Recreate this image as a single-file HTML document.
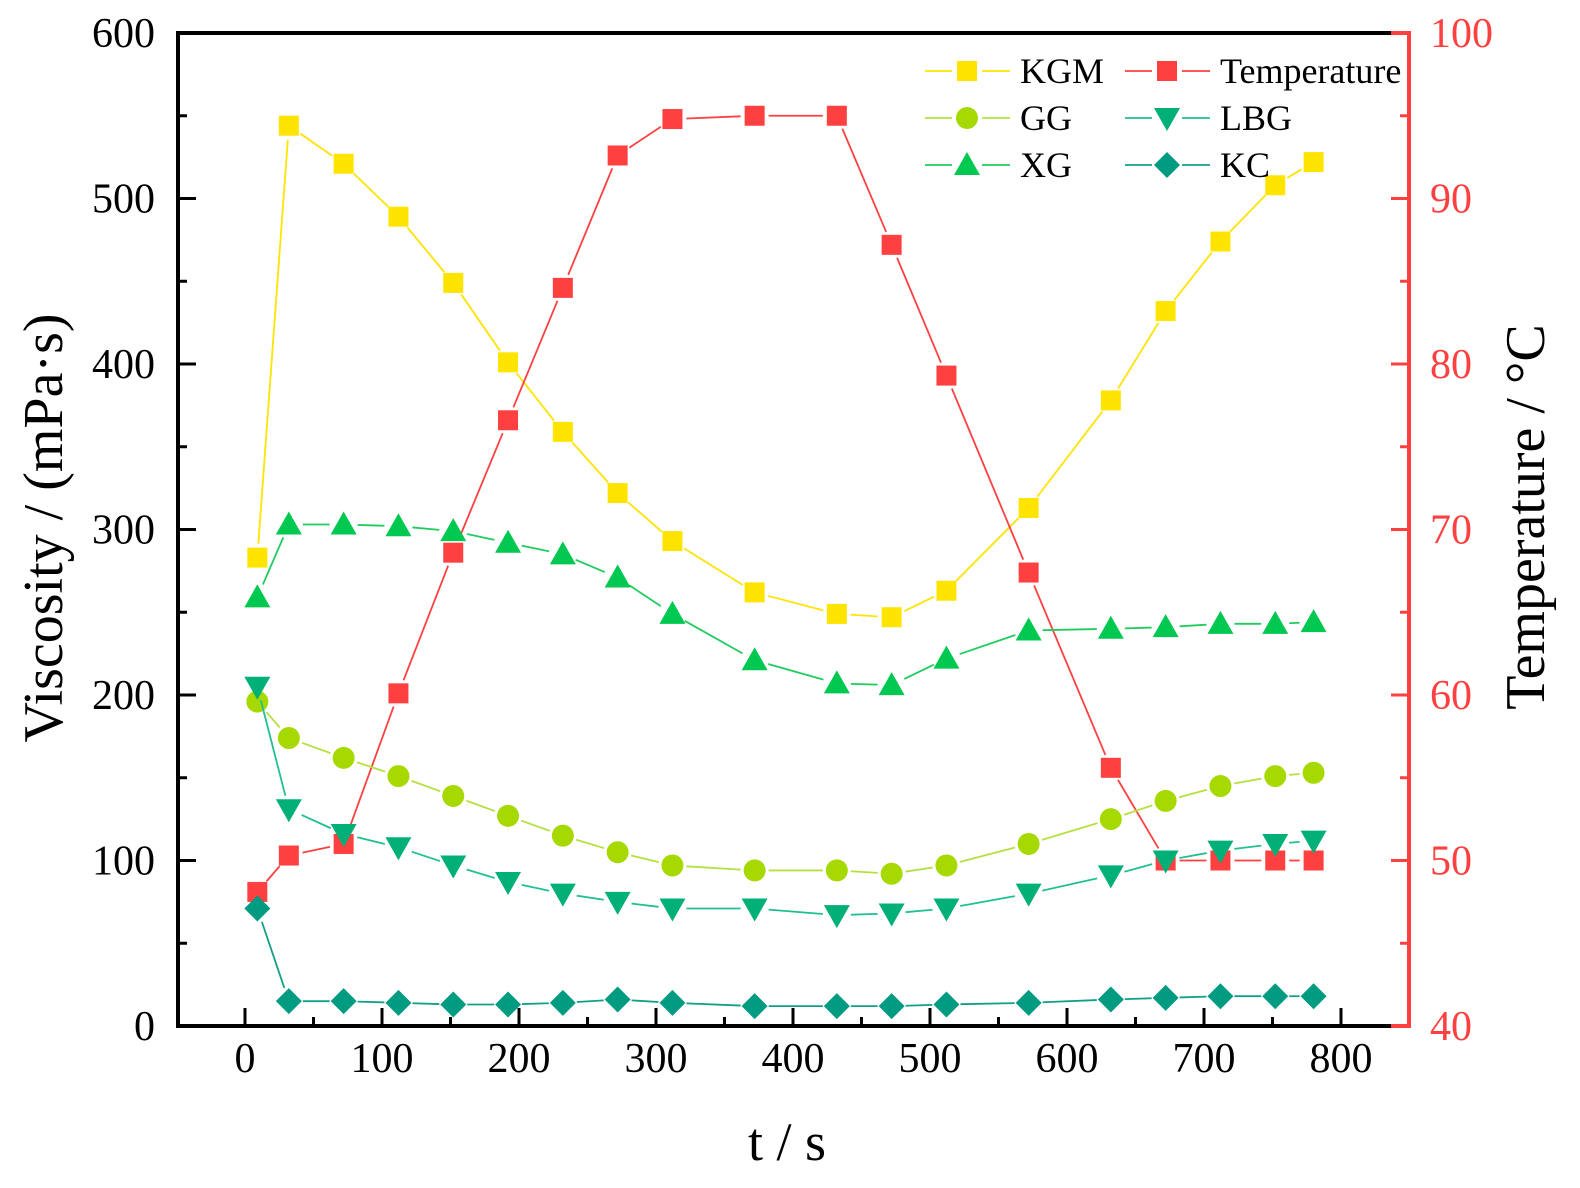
<!DOCTYPE html>
<html><head><meta charset="utf-8"><style>
html,body{margin:0;padding:0;background:#fff}
svg{display:block;font-family:"Liberation Serif",serif}
</style></head><body>
<svg id="chart" width="1580" height="1188" viewBox="0 0 1580 1188">
<g id="grid"></g>
<g id="series"></g>
<g id="axes"></g>
<g id="legend"></g>
</svg>
<script>
const times = [9,32,72,112,152,192,232,272,312,372,432,472,512,572,632,672,712,752,780];
const kgm = [283,544,521,489,449,401,359,322,293,262,249,247,263,313,378,432,474,508,522];
const temperature = [48.1,50.3,51.0,60.1,68.6,76.6,84.6,92.6,94.8,95.0,95.0,87.2,79.3,67.4,55.6,50,50,50,50];
const gg = [196,174,162,151,139,127,115,105,97,94,94,92,97,110,125,136,145,151,153];
const lbg = [205,131,116,108,97,87,80,75,71,71,67,68,71,80,91,100,106,110,112];
const xg = [259,303,303,302,299,292,285,271,249,221,207,206,222,239,240,241,243,243,244];
const kc = [71,15,15,14,13,13,14,16,14,12,12,12,13,14,16,17,18,18,18];
const xTicks = [0,100,200,300,400,500,600,700,800];
const yTicks = [0,100,200,300,400,500,600];
const y2Ticks = [40,50,60,70,80,90,100];

const NS='http://www.w3.org/2000/svg';
const L=178,R=1409,T=33,B=1026;
const sx=t=>245+t*1.37;
const sy=v=>B-(v/600)*(B-T);
const sy2=v=>B-((v-40)/60)*(B-T);
function mk(tag,attrs,parent,text){const e=document.createElementNS(NS,tag);for(const k in attrs)e.setAttribute(k,attrs[k]);if(text!==undefined)e.textContent=text;parent.appendChild(e);return e;}
const gS=document.getElementById('series'),gA=document.getElementById('axes'),gL=document.getElementById('legend');

function marker(shape,x,y,fill,parent){
  let e;
  if(shape==='square') e=mk('rect',{x:x-10,y:y-10,width:20,height:20,fill:fill},parent);
  else if(shape==='circle') e=mk('circle',{cx:x,cy:y,r:11,fill:fill},parent);
  else if(shape==='up') e=mk('polygon',{points:`${x-13},${y+10} ${x+13},${y+10} ${x},${y-13}`,fill:fill},parent);
  else if(shape==='down') e=mk('polygon',{points:`${x-13},${y-10} ${x+13},${y-10} ${x},${y+13}`,fill:fill},parent);
  else e=mk('polygon',{points:`${x-13},${y} ${x},${y-13} ${x+13},${y} ${x},${y+13}`,fill:fill},parent);
  return e;
}
function seg(x1,y1,x2,y2,color,parent){
  const dx=x2-x1,dy=y2-y1,d=Math.hypot(dx,dy),g=14;
  if(d<=2*g)return;
  const ux=dx/d,uy=dy/d;
  mk('line',{x1:x1+ux*g,y1:y1+uy*g,x2:x2-ux*g,y2:y2-uy*g,stroke:color,'stroke-width':1.8},parent);
}
const series=[
  {name:'kgm',vals:kgm,shape:'square',fill:'#FFE400',line:'#FFE400',ax:sy},
  {name:'temperature',vals:temperature,shape:'square',fill:'#FF4040',line:'#FF4040',ax:sy2},
  {name:'gg',vals:gg,shape:'circle',fill:'#A6D900',line:'#B5E040',ax:sy},
  {name:'lbg',vals:lbg,shape:'down',fill:'#00B076',line:'#20C090',ax:sy},
  {name:'xg',vals:xg,shape:'up',fill:'#00C850',line:'#20CC60',ax:sy},
  {name:'kc',vals:kc,shape:'diamond',fill:'#009B80',line:'#10A088',ax:sy}
];
series.forEach(s=>{
  const g=mk('g',{},gS);
  
  
  for(let i=0;i<times.length-1;i++)seg(sx(times[i]),s.ax(s.vals[i]),sx(times[i+1]),s.ax(s.vals[i+1]),s.line,g);
  times.forEach((t,i)=>{const m=marker(s.shape,sx(t),s.ax(s.vals[i]),s.fill,g);
    
    });
});

mk('line',{x1:L,y1:T,x2:R-18,y2:T,stroke:'#000','stroke-width':4},gA);
mk('line',{x1:R-18,y1:T,x2:R+2,y2:T,stroke:'#FF4040','stroke-width':4},gA);
mk('line',{x1:L,y1:B,x2:R-18,y2:B,stroke:'#000','stroke-width':4},gA);
mk('line',{x1:R-18,y1:B,x2:R+2,y2:B,stroke:'#FF4040','stroke-width':4},gA);
const la=mk('line',{x1:L,y1:T-2,x2:L,y2:B+2,stroke:'#000','stroke-width':4},gA);

const ra=mk('line',{x1:R,y1:T-2,x2:R,y2:B+2,stroke:'#FF4040','stroke-width':4},gA);


xTicks.forEach((t,i)=>{
  mk('line',{x1:sx(t),y1:B,x2:sx(t),y2:B-18,stroke:'#000','stroke-width':3},gA);
  if(i<xTicks.length-1)mk('line',{x1:sx(t+50),y1:B,x2:sx(t+50),y2:B-9,stroke:'#000','stroke-width':3},gA);
  const tx=mk('text',{x:sx(t),y:1072,'text-anchor':'middle','font-size':42},gA,t);
  
});
yTicks.forEach((v,i)=>{
  mk('line',{x1:L,y1:sy(v),x2:L+18,y2:sy(v),stroke:'#000','stroke-width':3},gA);
  if(i<yTicks.length-1)mk('line',{x1:L,y1:sy(v+50),x2:L+9,y2:sy(v+50),stroke:'#000','stroke-width':3},gA);
  const tx=mk('text',{x:155,y:sy(v)+14,'text-anchor':'end','font-size':42},gA,v);
  
});
y2Ticks.forEach((v,i)=>{
  mk('line',{x1:R,y1:sy2(v),x2:R-18,y2:sy2(v),stroke:'#FF4040','stroke-width':3},gA);
  if(i<y2Ticks.length-1)mk('line',{x1:R,y1:sy2(v+5),x2:R-9,y2:sy2(v+5),stroke:'#FF4040','stroke-width':3},gA);
  const tx=mk('text',{x:1430,y:sy2(v)+14,'text-anchor':'start','font-size':42,fill:'#FF4040'},gA,v);
  
});
const xt=mk('text',{x:787,y:1160,'text-anchor':'middle','font-size':54},gA,'t / s');

const yt=mk('text',{x:0,y:0,'text-anchor':'middle','font-size':56,transform:'translate(62,528) rotate(-90)'},gA,'Viscosity / (mPa·s)');

const y2t=mk('text',{x:0,y:0,'text-anchor':'middle','font-size':56,transform:'translate(1544,517) rotate(-90)'},gA,'Temperature / °C');


const leg=[
  ['KGM',0,0],['Temperature',1,0],['GG',2,1],['LBG',3,1],['XG',4,2],['KC',5,2]
];
leg.forEach(([label,si,row])=>{
  const s=series[si];const col=(si%2);
  const x0=col?1125:925, y=71+row*47;
  const g=mk('g',{},gL);
  
  
  mk('line',{x1:x0,y1:y,x2:x0+85,y2:y,stroke:s.line,'stroke-width':1.8},g);
  mk('rect',{x:x0+27,y:y-14,width:30,height:28,fill:'#fff'},g);
  marker(s.shape,x0+42,y,s.fill,g);
  mk('text',{x:x0+95,y:y+12,'font-size':36},g,label);
});
</script>
</body></html>
